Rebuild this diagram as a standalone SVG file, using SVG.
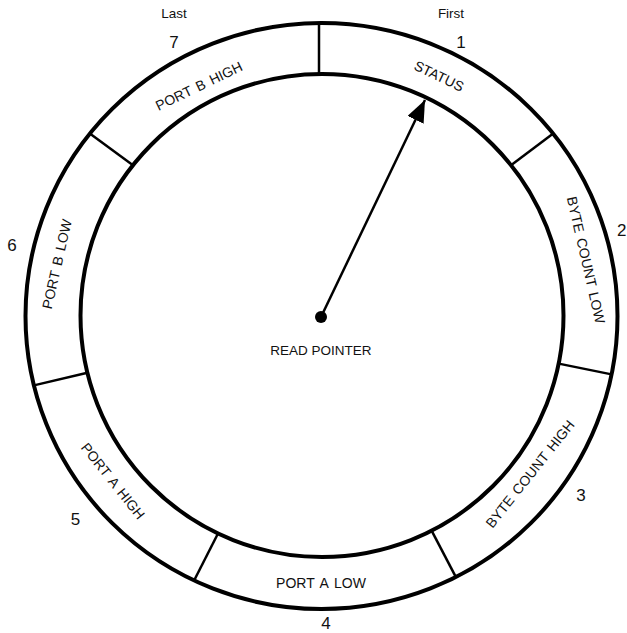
<svg xmlns="http://www.w3.org/2000/svg" width="627" height="633" viewBox="0 0 627 633">
<style>
.ring{fill:none;stroke:#000;stroke-width:4}
.div{stroke:#000;stroke-width:2.5;fill:none}
.lbl{font-family:"Liberation Sans",Arial,sans-serif;font-size:14px;fill:#111;text-anchor:middle;word-spacing:2px}
.num{font-family:"Liberation Sans",Arial,sans-serif;font-size:17px;fill:#111;text-anchor:middle}
.cap{font-family:"Liberation Sans",Arial,sans-serif;font-size:13.5px;fill:#111;text-anchor:middle}
.ptr{stroke:#000;stroke-width:2.5;fill:none}
</style>
<defs>
<marker id="ah" markerUnits="userSpaceOnUse" markerWidth="24" markerHeight="20" refX="22" refY="9" orient="auto">
<path d="M0,0 L22,9 L0,18 Z" fill="#000"/>
</marker>
</defs>
<rect width="627" height="633" fill="#fff"/>

<g id="ring">
<ellipse class="ring" cx="321.5" cy="316" rx="296" ry="293"/>
<circle class="ring" cx="322" cy="315.5" r="241.5"/>
</g>

<g id="dividers">
<line class="div" x1="319" y1="23" x2="319" y2="74"/>
<line class="div" x1="511" y1="165.2" x2="553.2" y2="133.6"/>
<line class="div" x1="558.7" y1="363.6" x2="611.6" y2="374.4"/>
<line class="div" x1="431.6" y1="530.7" x2="455.9" y2="577.1"/>
<line class="div" x1="218" y1="533.5" x2="194.1" y2="580.5"/>
<line class="div" x1="87.4" y1="372.7" x2="33.9" y2="385.4"/>
<line class="div" x1="133" y1="165.2" x2="89.8" y2="133.6"/>
</g>

<g id="sector-1">
<text class="lbl" transform="translate(439,76) rotate(25.7)" dy="0.35em">STATUS</text>
<text class="num" x="461" y="48">1</text>
<text class="cap" x="451" y="18">First</text>
</g>
<g id="sector-2">
<text class="lbl" transform="translate(586,260) rotate(77.1)" dy="0.35em">BYTE COUNT LOW</text>
<text class="num" x="617" y="236" style="text-anchor:start">2</text>
</g>
<g id="sector-3">
<text class="lbl" transform="translate(530,474) rotate(-51.4)" dy="0.35em">BYTE COUNT HIGH</text>
<text class="num" x="581" y="501">3</text>
</g>
<g id="sector-4">
<text class="lbl" transform="translate(321,583)" dy="0.35em">PORT A LOW</text>
<text class="num" x="326" y="629">4</text>
</g>
<g id="sector-5">
<text class="lbl" transform="translate(113,481) rotate(51.4)" dy="0.35em">PORT A HIGH</text>
<text class="num" x="75.5" y="525">5</text>
</g>
<g id="sector-6">
<text class="lbl" transform="translate(57,264) rotate(-77.1)" dy="0.35em">PORT B LOW</text>
<text class="num" x="12" y="251">6</text>
</g>
<g id="sector-7">
<text class="lbl" transform="translate(199,86) rotate(-25.7)" dy="0.35em">PORT B HIGH</text>
<text class="num" x="174" y="48">7</text>
<text class="cap" x="174" y="18">Last</text>
</g>

<g id="read-pointer">
<circle cx="321" cy="317" r="6" fill="#000"/>
<text class="cap" x="321" y="355">READ POINTER</text>
</g>

<g id="connectors">
<line class="ptr" x1="321" y1="317" x2="425" y2="100" marker-end="url(#ah)"/>
</g>
</svg>
